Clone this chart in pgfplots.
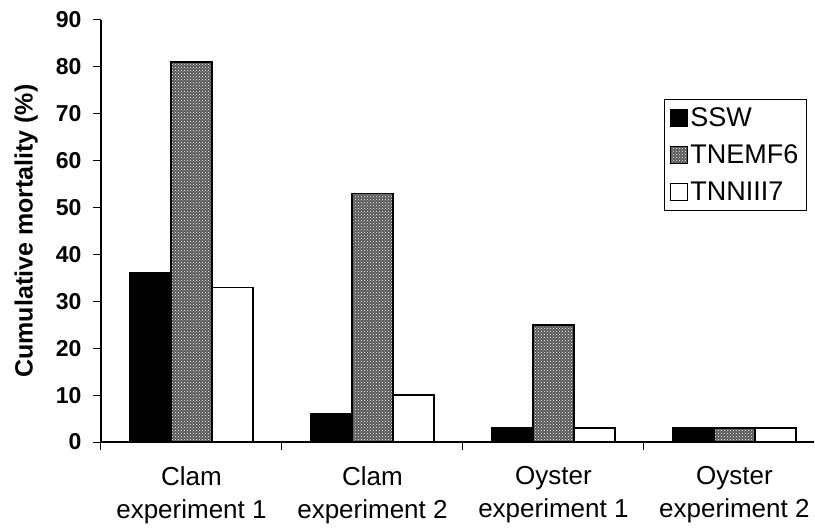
\documentclass[border=0pt]{standalone}
\usepackage{fontspec}
\setmainfont{Liberation Sans}
\usepackage{pgfplots}
\pgfplotsset{compat=1.18}
\usetikzlibrary{patterns}
\begin{document}
\begin{tikzpicture}
\useasboundingbox (-101pt,-86pt) rectangle (714pt,442pt);
\begin{axis}[
  scale only axis, width=713pt, height=422pt,
  axis lines=left, axis line style={-, line width=1.2pt},
  xmin=-0.5, xmax=3.44, ymin=0, ymax=90,
  ytick={0,10,...,90},
  xtick={-0.5,0.5,1.5,2.5}, xticklabels={},
  extra x ticks={0,1,2,3},
  extra x tick labels={{Clam\\experiment 1},{Clam\\experiment 2},{Oyster\\experiment 1},{Oyster\\experiment 2}},
  extra x tick style={major tick length=0pt, xticklabel style={align=center, yshift=-21pt, font=\fontsize{26}{33}\selectfont}},
  tick align=outside, major tick length=8pt, tick style={black, line width=1pt},
  yticklabel style={xshift=-8pt, font=\fontsize{23}{27}\selectfont\bfseries},
  /pgf/number format/assume math mode=true,
  ylabel={Cumulative mortality (\%)},
  ylabel style={font=\fontsize{25}{30}\selectfont\bfseries, at={(axis description cs:-0.105,0.5)}, anchor=center},
  ybar=0pt, bar width=41pt,
  legend style={at={(axis description cs:0.990,0.813)}, anchor=north east, draw=black, line width=1pt,
    font=\fontsize{27}{32}\selectfont, inner xsep=6pt, inner ysep=6pt, row sep=13pt},
  legend cell align=left,
  legend image code/.code={\draw[#1, line width=1pt] (0pt,-8.5pt) rectangle (17pt,8.5pt);},
]
\addplot[draw=black, line width=1.5pt, fill=black] coordinates {(0,36) (1,6) (2,3) (3,3)};
\addlegendentry{SSW}
\addplot[draw=black, line width=1.5pt, fill=black!66, postaction={pattern=crosshatch dots, pattern color=white}] coordinates {(0,81) (1,53) (2,25) (3,3)};
\addlegendentry{TNEMF6}
\addplot[draw=black, line width=1.5pt, fill=white] coordinates {(0,33) (1,10) (2,3) (3,3)};
\addlegendentry{TNNIII7}
\end{axis}
\end{tikzpicture}
\end{document}
